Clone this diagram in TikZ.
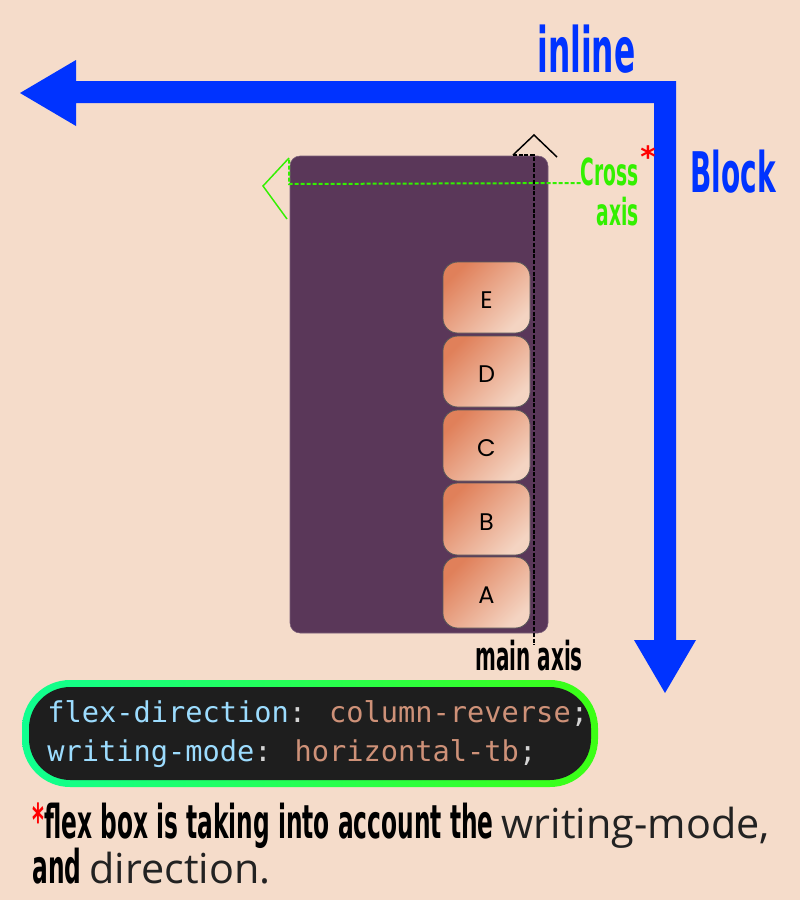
\documentclass[tikz,border=0pt]{standalone}
\usepackage{fontspec}
\setmainfont{DejaVu Sans}
\newfontfamily\cnd[FakeStretch=0.5]{DejaVu Sans}
\newfontfamily\osans{Open Sans}
\newfontfamily\mono{DejaVu Sans Mono}
\newfontfamily\letterfont{Poppins}
\usetikzlibrary{fit}
\definecolor{bg}{HTML}{F5DCCA}
\definecolor{blueA}{HTML}{0033FF}
\definecolor{purp}{HTML}{5A3759}
\definecolor{orA}{HTML}{E0805A}
\definecolor{orB}{HTML}{F4D4C2}
\definecolor{grn}{HTML}{33F000}
\definecolor{codebg}{HTML}{1E1E1E}
\definecolor{prop}{HTML}{9CDCFE}
\definecolor{val}{HTML}{CE9178}
\definecolor{punc}{HTML}{D4D4D4}
\definecolor{mintA}{HTML}{10FF90}
\definecolor{limeB}{HTML}{3CFF14}
\definecolor{txt}{HTML}{222222}
\tikzset{
  container/.style={fill=purp, draw=purp!80!white, rounded corners=7.5pt, inner sep=0pt},
  item/.style={draw=black!65, line width=0.6pt, rounded corners=11pt, inner sep=0pt,
     top color=orA, bottom color=orB, shading angle=45},
  itemlbl/.style={inner sep=0pt, text=black, font=\letterfont\fontsize{18}{18}\selectfont},
  lbl/.style={inner sep=0pt, anchor=base west},
  crossline/.style={grn, line width=1.5pt, dash pattern=on 3pt off 1.5pt},
  crosshead/.style={grn, line width=1.1pt},
  mainline/.style={black, line width=1.3pt, dash pattern=on 3pt off 1.3pt},
  mainhead/.style={black, line width=1.1pt},
}
\begin{document}
\begin{tikzpicture}[x=0.75pt,y=-0.75pt]
\useasboundingbox (0,0) rectangle (800,900);
\fill[bg] (0,0) rectangle (800,900);

% blue axes arrow
\coordinate (inTip) at (20,93);
\coordinate (blTip) at (665,693);
\fill[blueA] (inTip) -- (76,60) -- (76,81) -- (676,81) -- (676,640) -- (696,640)
  -- (blTip) -- (634,640) -- (654,640) -- (654,103) -- (76,103) -- (76,126) -- cycle;
\node[lbl, text=blueA, font=\cnd\bfseries\fontsize{47}{47}\selectfont] (inl) at (537,72) {inline};
\node[lbl, text=blueA, font=\cnd\bfseries\fontsize{42}{42}\selectfont] (blk) at (690,192) {Block};

% container
\node[container, fit={(290,156)(548,633)}] (box) {};
\node[item, fit={(443,262)(530,333)}] (E) {};
\node[item, fit={(443,336)(530,407)}] (D) {};
\node[item, fit={(443,410)(530,481)}] (C) {};
\node[item, fit={(443,483)(530,555)}] (B) {};
\node[item, fit={(443,557)(530,628)}] (A) {};
\foreach \n in {A,B,C,D,E} \node[itemlbl] at ([yshift=-2pt]\n.center) {\n};

% cross axis
\node[inner sep=0pt, anchor=base east, text=grn, font=\cnd\bfseries\fontsize{28}{28}\selectfont] (cross) at (639,185) {Cross};
\node[inner sep=0pt, anchor=base east, text=grn, font=\cnd\bfseries\fontsize{28}{28}\selectfont] (axis) at (639,225) {axis};
\node[inner sep=0pt, anchor=north west, text=red, font=\bfseries\fontsize{22}{22}\selectfont] (star) at (640,145) {*};
\coordinate (cEnd) at (289,184);
\coordinate (cTop) at (289,158);
\draw[crossline] (cross.west |- 0,183) -- (cEnd) -- (cTop);
\draw[crosshead] (cTop) -- (263,186) -- (287,219);

% main axis
\coordinate (mTop) at (534,155);
\coordinate (mBot) at (534,645);
\draw[mainline] (513,155) -- (mTop) -- (mBot);
\draw[mainhead] (513,155) -- (534,135) -- (557,157);
\node[lbl, text=black, font=\cnd\bfseries\fontsize{30}{30}\selectfont] (main) at (475,670) {main axis};

% code box
\node[fit={(22,680)(598,787)}, inner sep=0pt, rounded corners=36pt, left color=mintA, right color=limeB] (code) {};
\fill[codebg, rounded corners=31pt] (29,687) rectangle (591,780);
\node[lbl, font=\mono\fontsize{21.5}{21.5}\selectfont] (l1) at (47,722)
  {\color{prop}flex-direction\color{punc}: \color{val}column-reverse\color{punc};};
\node[lbl, font=\mono\fontsize{21.5}{21.5}\selectfont] (l2) at (47,761)
  {\color{prop}writing-mode\color{punc}: \color{val}horizontal-tb\color{punc};};

% note
\node[lbl] (n1) at (32,838) {{\cnd\bfseries\fontsize{35}{35}\selectfont\raisebox{1pt}{\fontsize{34}{34}\selectfont\color{red}*}\color{black}flex box is taking into account the }{\osans\fontsize{31}{31}\selectfont\color{txt}writing-mode,}};
\node[lbl] (n2) at (32,883) {{\cnd\bfseries\fontsize{35}{35}\selectfont\color{black}and }{\osans\fontsize{31}{31}\selectfont\color{txt}direction.}};
\end{tikzpicture}
\end{document}
